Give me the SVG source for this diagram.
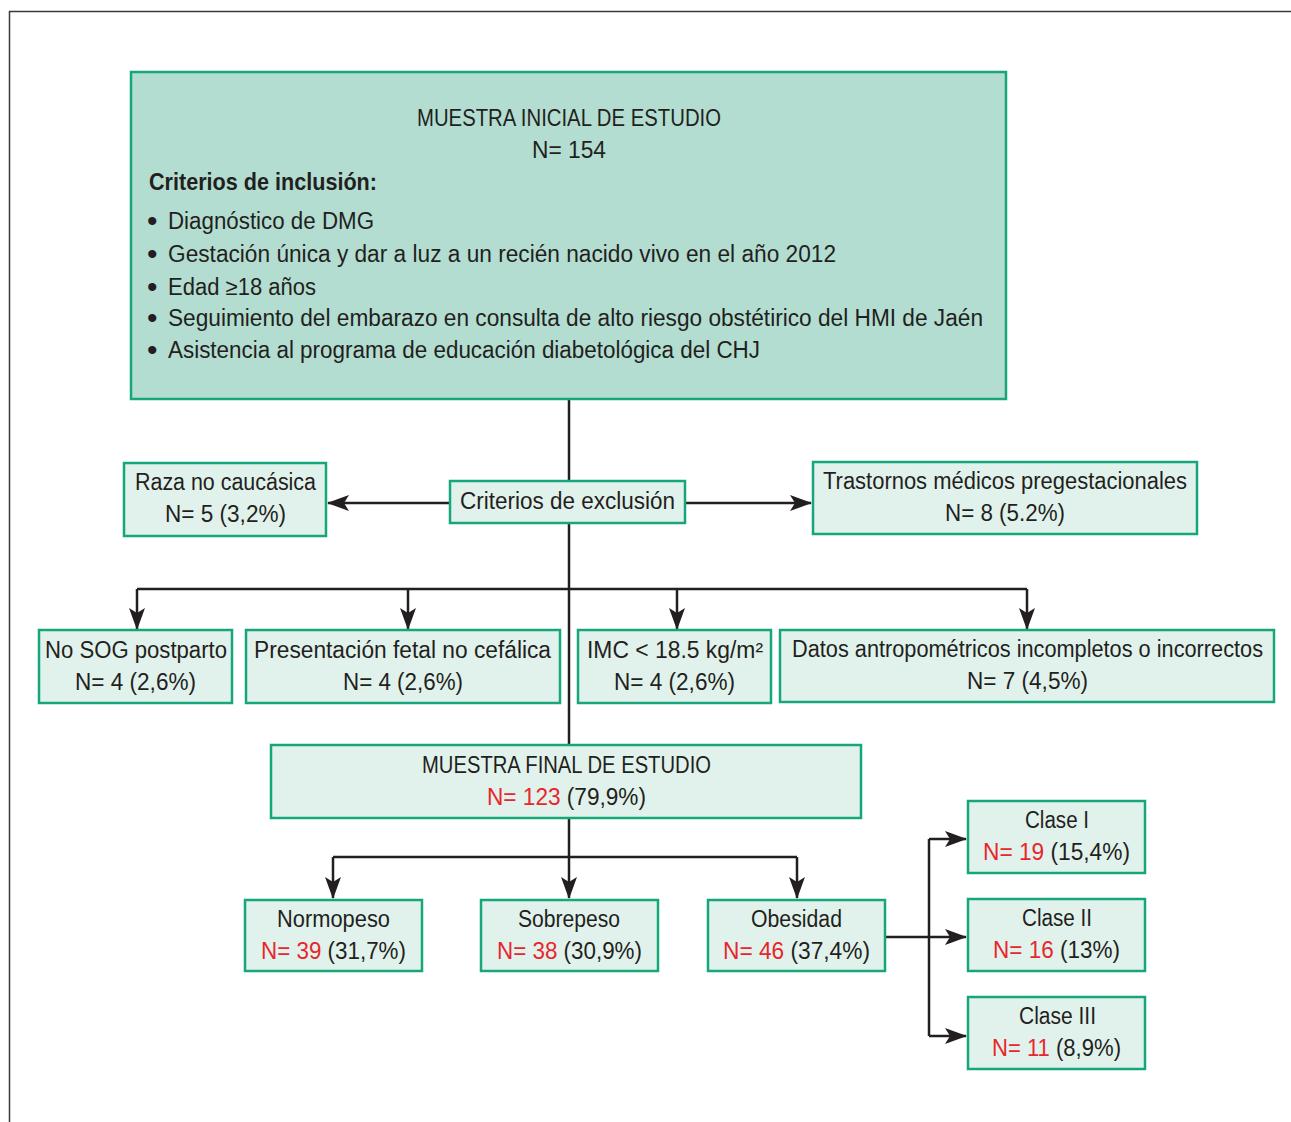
<svg xmlns="http://www.w3.org/2000/svg" width="1291" height="1122" viewBox="0 0 1291 1122">
<style>
.box{fill:#e1f2ec;stroke:#17a67b;stroke-width:2.5}
.main{fill:#b2ddd0;stroke:#17a67b;stroke-width:2.5}
text{font-family:"Liberation Sans",Arial,sans-serif;font-size:23px;fill:#231f20}
.b{font-weight:bold}
.bl{font-size:30px}
.r{fill:#e8262b}
.ln{fill:none;stroke:#231f20;stroke-width:2.5}
.ar{fill:none;stroke:#231f20;stroke-width:2.5;marker-end:url(#ah)}
</style>
<defs>
<marker id="ah" markerUnits="userSpaceOnUse" markerWidth="22" markerHeight="16" viewBox="0 0 22 16" refX="21" refY="8" orient="auto">
<path d="M0,0 L22,8 L0,16 L5,8 z" fill="#231f20"/>
</marker>
</defs>
<rect x="9.5" y="11.5" width="1300" height="1130" fill="none" stroke="#3a3a3a" stroke-width="1.5"/>

<g id="connectors">
<path class="ln" d="M569,399 V481"/>
<path class="ln" d="M569,523 V745"/>
<path class="ar" d="M450,503 H328"/>
<path class="ar" d="M685,503 H811"/>
<path class="ln" d="M137,589 H1027"/>
<path class="ar" d="M137,589 V629"/>
<path class="ar" d="M408,589 V629"/>
<path class="ar" d="M677,589 V629"/>
<path class="ar" d="M1027,589 V629"/>
<path class="ar" d="M569,818 V898"/>
<path class="ln" d="M333,857 H797"/>
<path class="ar" d="M333,857 V898"/>
<path class="ar" d="M797,857 V898"/>
<path class="ar" d="M885,937 H966"/>
<path class="ln" d="M929,839 V1036"/>
<path class="ar" d="M929,839 H966"/>
<path class="ar" d="M929,1036 H966"/>
</g>

<g id="main">
<rect class="main" x="131" y="72" width="875" height="327"/>
<text x="417" y="126" textLength="304" lengthAdjust="spacingAndGlyphs">MUESTRA INICIAL DE ESTUDIO</text>
<text x="532" y="158" textLength="74" lengthAdjust="spacingAndGlyphs">N= 154</text>
<text class="b" x="149" y="190" textLength="228" lengthAdjust="spacingAndGlyphs">Criterios de inclusión:</text>
<text class="bl" x="147" y="231">•</text>
<text x="168" y="229" textLength="206" lengthAdjust="spacingAndGlyphs">Diagnóstico de DMG</text>
<text class="bl" x="147" y="264">•</text>
<text x="168" y="262" textLength="668" lengthAdjust="spacingAndGlyphs">Gestación única y dar a luz a un recién nacido vivo en el año 2012</text>
<text class="bl" x="147" y="297">•</text>
<text x="168" y="295" textLength="148" lengthAdjust="spacingAndGlyphs">Edad ≥18 años</text>
<text class="bl" x="147" y="328">•</text>
<text x="168" y="326" textLength="815" lengthAdjust="spacingAndGlyphs">Seguimiento del embarazo en consulta de alto riesgo obstétirico del HMI de Jaén</text>
<text class="bl" x="147" y="360">•</text>
<text x="168" y="358" textLength="592" lengthAdjust="spacingAndGlyphs">Asistencia al programa de educación diabetológica del CHJ</text>
</g>

<g id="exclusion">
<rect class="box" x="450" y="481" width="235" height="42"/>
<text x="460" y="509" textLength="215" lengthAdjust="spacingAndGlyphs">Criterios de exclusión</text>
</g>

<g id="raza">
<rect class="box" x="124" y="463" width="202" height="73"/>
<text x="135" y="490" textLength="181" lengthAdjust="spacingAndGlyphs">Raza no caucásica</text>
<text x="165" y="522" textLength="121" lengthAdjust="spacingAndGlyphs">N= 5 (3,2%)</text>
</g>

<g id="trastornos">
<rect class="box" x="813" y="462" width="384" height="72"/>
<text x="823" y="489" textLength="364" lengthAdjust="spacingAndGlyphs">Trastornos médicos pregestacionales</text>
<text x="945" y="521" textLength="120" lengthAdjust="spacingAndGlyphs">N= 8 (5.2%)</text>
</g>

<g id="nosog">
<rect class="box" x="39" y="630" width="193" height="73"/>
<text x="45" y="658" textLength="182" lengthAdjust="spacingAndGlyphs">No SOG postparto</text>
<text x="75" y="690" textLength="121" lengthAdjust="spacingAndGlyphs">N= 4 (2,6%)</text>
</g>

<g id="presentacion">
<rect class="box" x="246" y="630" width="314" height="73"/>
<text x="254" y="658" textLength="297" lengthAdjust="spacingAndGlyphs">Presentación fetal no cefálica</text>
<text x="343" y="690" textLength="120" lengthAdjust="spacingAndGlyphs">N= 4 (2,6%)</text>
</g>

<g id="imc">
<rect class="box" x="578" y="630" width="193" height="73"/>
<text x="587" y="658" textLength="176" lengthAdjust="spacingAndGlyphs">IMC &lt; 18.5 kg/m²</text>
<text x="614" y="690" textLength="121" lengthAdjust="spacingAndGlyphs">N= 4 (2,6%)</text>
</g>

<g id="datos">
<rect class="box" x="780" y="630" width="494" height="72"/>
<text x="792" y="657" textLength="471" lengthAdjust="spacingAndGlyphs">Datos antropométricos incompletos o incorrectos</text>
<text x="967" y="689" textLength="121" lengthAdjust="spacingAndGlyphs">N= 7 (4,5%)</text>
</g>

<g id="final">
<rect class="box" x="271" y="745" width="590" height="73"/>
<text x="422" y="773" textLength="289" lengthAdjust="spacingAndGlyphs">MUESTRA FINAL DE ESTUDIO</text>
<text x="487" y="805" textLength="159" lengthAdjust="spacingAndGlyphs"><tspan class="r">N= 123</tspan> (79,9%)</text>
</g>

<g id="normopeso">
<rect class="box" x="245" y="900" width="177" height="71"/>
<text x="277" y="927" textLength="113" lengthAdjust="spacingAndGlyphs">Normopeso</text>
<text x="261" y="959" textLength="145" lengthAdjust="spacingAndGlyphs"><tspan class="r">N= 39</tspan> (31,7%)</text>
</g>

<g id="sobrepeso">
<rect class="box" x="481" y="900" width="177" height="71"/>
<text x="518" y="927" textLength="102" lengthAdjust="spacingAndGlyphs">Sobrepeso</text>
<text x="497" y="959" textLength="145" lengthAdjust="spacingAndGlyphs"><tspan class="r">N= 38</tspan> (30,9%)</text>
</g>

<g id="obesidad">
<rect class="box" x="708" y="900" width="177" height="71"/>
<text x="751" y="927" textLength="91" lengthAdjust="spacingAndGlyphs">Obesidad</text>
<text x="723" y="959" textLength="147" lengthAdjust="spacingAndGlyphs"><tspan class="r">N= 46</tspan> (37,4%)</text>
</g>

<g id="clase1">
<rect class="box" x="968" y="801" width="177" height="72"/>
<text x="1025" y="828" textLength="64" lengthAdjust="spacingAndGlyphs">Clase I</text>
<text x="983" y="860" textLength="147" lengthAdjust="spacingAndGlyphs"><tspan class="r">N= 19</tspan> (15,4%)</text>
</g>

<g id="clase2">
<rect class="box" x="968" y="899" width="177" height="72"/>
<text x="1022" y="926" textLength="70" lengthAdjust="spacingAndGlyphs">Clase II</text>
<text x="993" y="958" textLength="127" lengthAdjust="spacingAndGlyphs"><tspan class="r">N= 16</tspan> (13%)</text>
</g>

<g id="clase3">
<rect class="box" x="968" y="997" width="177" height="72"/>
<text x="1019" y="1024" textLength="77" lengthAdjust="spacingAndGlyphs">Clase III</text>
<text x="992" y="1056" textLength="129" lengthAdjust="spacingAndGlyphs"><tspan class="r">N= 11</tspan> (8,9%)</text>
</g>
</svg>
